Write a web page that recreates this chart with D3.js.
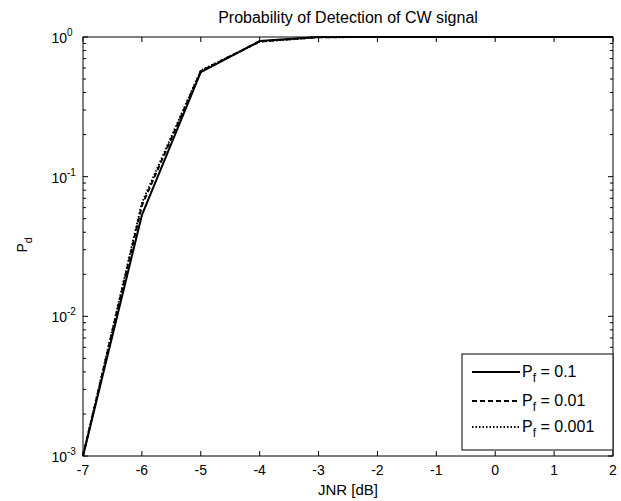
<!DOCTYPE html>
<html>
<head>
<meta charset="utf-8">
<script src="https://cdn.jsdelivr.net/npm/d3@7"></script>
<style>
  body { margin: 0; background: #fff; }
  svg { display: block; font-family: "Liberation Sans", Arial, sans-serif; }
</style>
</head>
<body>
<div id="chart"></div>
<script>
// chart data
const jnr = [-7, -6, -5, -4, -3, -2, -1, 0, 1, 2];
const pd01 = [0.001, 0.053, 0.56, 0.935, 0.998, 1, 1, 1, 1, 1];
const pd001 = [0.001, 0.062, 0.57, 0.93, 0.997, 1, 1, 1, 1, 1];
const pd0001 = [0.001, 0.065, 0.575, 0.925, 0.996, 1, 1, 1, 1, 1];
const seriesNames = ["0.1", "0.01", "0.001"];
const xTicks = [-7, -6, -5, -4, -3, -2, -1, 0, 1, 2];
const yExps = [-3, -2, -1, 0];

const width = 621, height = 501;
const margin = { top: 37, right: 8, bottom: 45, left: 83 };

const svg = d3.select("#chart").append("svg")
  .attr("width", width)
  .attr("height", height);

const x = d3.scaleLinear().domain([-7, 2]).range([margin.left, width - margin.right]);
const y = d3.scaleLog().domain([0.001, 1]).range([height - margin.bottom, margin.top]);

const x0 = x.range()[0], x1 = x.range()[1];
const y0 = y.range()[0], y1 = y.range()[1];

// frame
svg.append("rect")
  .attr("x", x0).attr("y", y1)
  .attr("width", x1 - x0).attr("height", y0 - y1)
  .attr("fill", "#fff").attr("stroke", "#000").attr("stroke-width", 1);

const tickLen = 5;
const minorLen = 3;

// x ticks (inside, bottom and top)
const gx = svg.append("g");
xTicks.forEach(t => {
  gx.append("line").attr("x1", x(t)).attr("x2", x(t)).attr("y1", y0).attr("y2", y0 - tickLen).attr("stroke", "#000");
  gx.append("line").attr("x1", x(t)).attr("x2", x(t)).attr("y1", y1).attr("y2", y1 + tickLen).attr("stroke", "#000");
  gx.append("text")
    .attr("x", x(t)).attr("y", y0 + 19)
    .attr("text-anchor", "middle")
    .attr("font-size", 14)
    .text(t);
});

// y ticks, major and minor
const gy = svg.append("g");
yExps.forEach(e => {
  const v = Math.pow(10, e);
  gy.append("line").attr("x1", x0).attr("x2", x0 + tickLen).attr("y1", y(v)).attr("y2", y(v)).attr("stroke", "#000");
  gy.append("line").attr("x1", x1).attr("x2", x1 - tickLen).attr("y1", y(v)).attr("y2", y(v)).attr("stroke", "#000");
  gy.append("text")
    .attr("x", x0 - 16).attr("y", y(v) + 6)
    .attr("text-anchor", "end")
    .attr("font-size", 14)
    .text("10");
  gy.append("text")
    .attr("x", x0 - 16).attr("y", y(v) - 1)
    .attr("font-size", 10)
    .text(e);
  if (e < 0) {
    for (let m = 2; m <= 9; m++) {
      const mv = m * v;
      gy.append("line").attr("x1", x0).attr("x2", x0 + minorLen).attr("y1", y(mv)).attr("y2", y(mv)).attr("stroke", "#000");
      gy.append("line").attr("x1", x1).attr("x2", x1 - minorLen).attr("y1", y(mv)).attr("y2", y(mv)).attr("stroke", "#000");
    }
  }
});

// lines
const line = d3.line().x(d => x(d[0])).y(d => y(d[1]));
const series = [
  { name: seriesNames[0], values: pd01, dash: null },
  { name: seriesNames[1], values: pd001, dash: "5,3" },
  { name: seriesNames[2], values: pd0001, dash: "1.5,2" }
];

svg.append("g").selectAll("path")
  .data(series)
  .join("path")
  .attr("d", s => line(jnr.map((j, i) => [j, s.values[i]])))
  .attr("fill", "none")
  .attr("stroke", "#000")
  .attr("stroke-width", 2)
  .attr("stroke-dasharray", s => s.dash);

// title and axis labels
svg.append("text")
  .attr("x", (x0 + x1) / 2).attr("y", 23)
  .attr("text-anchor", "middle")
  .attr("font-size", 16)
  .text("Probability of Detection of CW signal");

svg.append("text")
  .attr("x", (x0 + x1) / 2).attr("y", y0 + 39)
  .attr("text-anchor", "middle")
  .attr("font-size", 15)
  .text("JNR [dB]");

const yl = svg.append("text")
  .attr("transform", `translate(27,${(y0 + y1) / 2 + 6}) rotate(-90)`)
  .attr("font-size", 14);
yl.append("tspan").text("P");
yl.append("tspan").attr("dy", 5).attr("font-size", 11).text("d");

// legend
const lg = svg.append("g");
const lgX = 462, lgY = 354, lgW = x1 - 462, lgH = 96;
lg.append("rect")
  .attr("x", lgX).attr("y", lgY).attr("width", lgW).attr("height", lgH)
  .attr("fill", "#fff").attr("stroke", "#000");
const rowY = [372, 401, 427];
series.forEach((s, i) => {
  lg.append("line")
    .attr("x1", 472).attr("x2", 520)
    .attr("y1", rowY[i]).attr("y2", rowY[i])
    .attr("stroke", "#000").attr("stroke-width", 2)
    .attr("stroke-dasharray", s.dash);
  const t = lg.append("text")
    .attr("x", 522).attr("y", rowY[i] + 5)
    .attr("font-size", 16);
  t.append("tspan").text("P");
  t.append("tspan").attr("dy", 5).attr("font-size", 12).text("f");
  t.append("tspan").attr("dy", -5).text(" = " + s.name);
});
</script>
</body>
</html>
